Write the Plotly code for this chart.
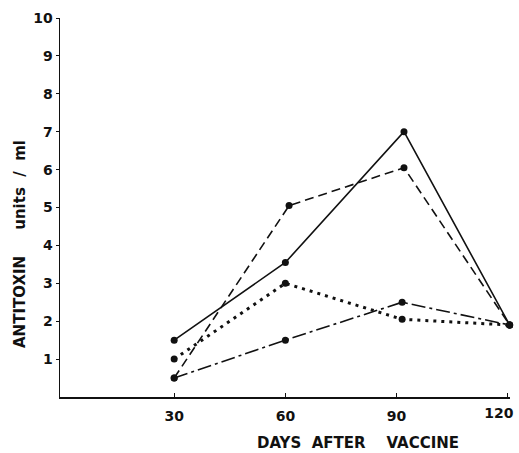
import plotly.graph_objects as go

# Data
days_solid = [30, 60, 92, 120.5]
solid = [1.5, 3.55, 7.0, 1.9]

days_dashed = [30, 61, 92, 120.5]
dashed = [0.5, 5.05, 6.05, 1.9]

days_cross = [30, 60, 91.5, 120.5]
cross = [1.0, 3.0, 2.05, 1.9]

days_dashdot = [30, 60, 91.5, 120.5]
dashdot = [0.5, 1.5, 2.5, 1.9]

x_ticks = [30, 60, 90]
x_tick_text = ["30", "60", "90"]
x_last_tick = [120]
x_last_text = ["120"]
y_ticks = [1, 2, 3, 4, 5, 6, 7, 8, 9, 10]
y_tick_text = ["1", "2", "3", "4", "5", "6", "7", "8", "9", "10"]

x_title = "DAYS  AFTER    VACCINE"
y_title = "ANTITOXIN     units  /  ml"

FONT = "DejaVu Sans"
BLACK = "#111111"

W, H = 519, 453
ML, MR, MT, MB = 60, 9, 18, 56
X_RANGE = [-0.8, 120.6]

fig = go.Figure()

def add(xs, ys, dash, width=1.6):
    fig.add_trace(go.Scatter(
        x=xs, y=ys, mode="lines+markers",
        line=dict(color=BLACK, width=width, dash=dash),
        marker=dict(color=BLACK, size=7, symbol="circle"),
        cliponaxis=False, showlegend=False, hoverinfo="skip",
    ))

add(days_solid, solid, "solid")
add(days_dashed, dashed, "9px,5px")
add(days_cross, cross, "3px,5px", width=3)
add(days_dashdot, dashdot, "14px,4px,3px,4px")

tickfont = dict(size=14, family=FONT, weight="bold", color=BLACK)

fig.update_layout(
    width=W, height=H,
    margin=dict(l=ML, r=MR, t=MT, b=MB, autoexpand=False),
    paper_bgcolor="white", plot_bgcolor="white",
    font=dict(family=FONT, color=BLACK, size=14),
    xaxis=dict(
        range=X_RANGE, tickvals=x_ticks, ticktext=x_tick_text,
        showgrid=False, zeroline=False, showline=True, linecolor=BLACK, linewidth=1.5,
        ticks="inside", ticklen=4, tickcolor=BLACK, tickfont=tickfont,
        ticklabelstandoff=6, automargin=False,
    ),
    xaxis2=dict(
        range=X_RANGE, overlaying="x", side="bottom", anchor="y",
        tickvals=x_last_tick, ticktext=x_last_text,
        showgrid=False, zeroline=False, showline=False,
        ticks="inside", ticklen=4, tickcolor=BLACK, tickfont=tickfont,
        ticklabelstandoff=6, ticklabelshift=-9, automargin=False,
    ),
    yaxis=dict(
        range=[0, 10], tickvals=y_ticks, ticktext=y_tick_text,
        showgrid=False, zeroline=False, showline=True, linecolor=BLACK, linewidth=1.5,
        ticks="outside", ticklen=3, tickcolor=BLACK, tickfont=tickfont,
        automargin=False,
    ),
    annotations=[
        dict(text=x_title, xref="paper", yref="paper",
             x=(358 - ML) / (W - ML - MR), y=-(443 - (H - MB)) / (H - MT - MB),
             xanchor="center", yanchor="middle", showarrow=False,
             font=dict(size=15, family=FONT, weight="bold", color=BLACK)),
        dict(text=y_title, xref="paper", yref="paper",
             x=-(ML - 20) / (W - ML - MR), y=(H - MB - 244) / (H - MT - MB),
             xanchor="center", yanchor="middle", showarrow=False, textangle=-90,
             font=dict(size=15, family=FONT, weight="bold", color=BLACK)),
    ],
)

# invisible helper trace so that the second x axis is drawn
fig.add_trace(go.Scatter(x=x_last_tick, y=[None], xaxis="x2", yaxis="y",
                         mode="markers", showlegend=False, hoverinfo="skip"))

fig.write_html(
    "out.html",
    config={"displayModeBar": False, "staticPlot": True},
    post_script="document.body.style.margin='0';document.body.style.overflow='hidden';",
)
